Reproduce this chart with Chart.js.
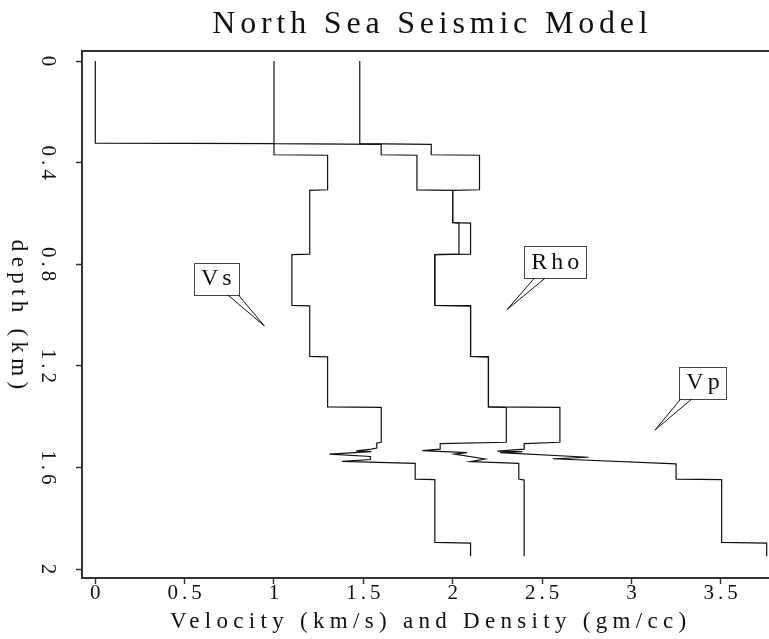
<!DOCTYPE html>
<html>
<head>
<meta charset="utf-8">
<script src="https://cdn.jsdelivr.net/npm/chart.js@4.4.1/dist/chart.umd.min.js"></script>
<style>
  html, body { margin: 0; padding: 0; background: #fff; overflow: hidden; }
  #wrap { width: 769px; height: 639px; overflow: hidden; }
</style>
</head>
<body>
<div id="wrap"><canvas id="seismicChart" width="780" height="639"></canvas></div>
<script>
const chartTitle = "North Sea Seismic Model";
const xAxisTitle = "Velocity (km/s) and Density (gm/cc)";
const yAxisTitle = "depth (km)";

const xTicks = [0, 0.5, 1, 1.5, 2, 2.5, 3, 3.5];
const yTicks = [0, 0.4, 0.8, 1.2, 1.6, 2];

// shear velocity (km/s) vs depth (km)
const vsVel = [0, 0, 1.0, 1.0, 1.3, 1.3, 1.2, 1.2, 1.1, 1.1, 1.2, 1.2, 1.3, 1.3, 1.6, 1.6,
  1.575, 1.575, 1.545, 1.46, 1.545, 1.31, 1.54, 1.54, 1.38, 1.79, 1.79, 1.9, 1.9, 2.1, 2.1];
const vsDepth = [0, 0.323, 0.325, 0.369, 0.371, 0.507, 0.509, 0.760, 0.762, 0.962, 0.964, 1.163, 1.165, 1.362, 1.364, 1.501,
  1.504, 1.524, 1.528, 1.535, 1.538, 1.548, 1.557, 1.569, 1.576, 1.584, 1.646, 1.648, 1.895, 1.898, 1.95];

// density (gm/cc) vs depth (km)
const rhoVel = [1.0, 1.0, 1.6, 1.6, 1.8, 1.8, 2.0, 2.0, 2.035, 2.035, 1.9, 1.9, 2.1, 2.1, 2.2, 2.2, 2.3, 2.3,
  1.93, 1.93, 1.83, 2.08, 2.01, 2.18, 2.10, 2.37, 2.37, 2.40, 2.40];
const rhoDepth = [0, 0.325, 0.328, 0.369, 0.371, 0.507, 0.509, 0.636, 0.638, 0.760, 0.762, 0.962, 0.964, 1.163, 1.165, 1.362, 1.364, 1.501,
  1.506, 1.528, 1.534, 1.542, 1.548, 1.567, 1.577, 1.584, 1.646, 1.650, 1.95];

// compressional velocity (km/s) vs depth (km)
const vpVel = [1.48, 1.48, 1.88, 1.88, 2.15, 2.15, 2.0, 2.0, 2.10, 2.10, 1.9, 1.9, 2.1, 2.1, 2.2, 2.2, 2.6, 2.6,
  2.40, 2.40, 2.25, 2.39, 2.265, 2.76, 2.56, 3.25, 3.25, 3.505, 3.505, 3.757, 3.757];
const vpDepth = [0, 0.325, 0.328, 0.369, 0.371, 0.507, 0.509, 0.636, 0.638, 0.760, 0.762, 0.962, 0.964, 1.163, 1.165, 1.362, 1.364, 1.501,
  1.506, 1.528, 1.536, 1.538, 1.542, 1.560, 1.566, 1.586, 1.646, 1.648, 1.895, 1.898, 1.95];

// callout labels: the point each one points at
const labelNames = ["Vs", "Rho", "Vp"];
const labelVel = [0.946, 2.305, 3.132];
const labelDepth = [1.043, 0.978, 1.453];

// styling for the callouts (pixel offsets from the tip)
const calloutStyle = {
  boxDx: [-48, 48, 48],
  boxDy: -47,
  boxH: 32,
  padX: 7,
  baseDx: [[-36.6, -26], [27, 37.7], [25.7, 36.7]],
  baseDy: -31
};

const SERIF = "'Liberation Serif', 'Times New Roman', serif";
const TICK_SPACING = 4;

function toPoints(xs, ys) {
  return xs.map((x, i) => ({ x, y: ys[i] }));
}

function curve(xs, ys) {
  return {
    data: toPoints(xs, ys),
    showLine: true,
    borderColor: "#111",
    borderWidth: 1.2,
    pointRadius: 0,
    tension: 0,
    fill: false
  };
}

function spacedText(ctx, text, x, y, spacing, rotation) {
  ctx.save();
  ctx.letterSpacing = spacing + "px";
  const w = ctx.measureText(text).width - spacing;
  ctx.translate(x, y);
  ctx.rotate(rotation || 0);
  ctx.textAlign = "left";
  ctx.fillText(text, -w / 2, 0);
  ctx.restore();
  return w;
}

const decorPlugin = {
  id: "decor",
  beforeUpdate(chart) {
    chart.ctx.letterSpacing = TICK_SPACING + "px";
  },
  beforeDraw(chart) {
    chart.ctx.letterSpacing = TICK_SPACING + "px";
  },
  afterDraw(chart) {
    const ctx = chart.ctx;
    const area = chart.chartArea;
    const xs = chart.scales.x;
    const ys = chart.scales.y;

    // top frame line
    ctx.save();
    ctx.strokeStyle = "#333";
    ctx.lineWidth = 2;
    ctx.beginPath();
    ctx.moveTo(area.left - 1, area.top);
    ctx.lineTo(area.right, area.top);
    ctx.stroke();
    ctx.restore();

    ctx.save();
    ctx.fillStyle = "#111";
    ctx.textBaseline = "alphabetic";
    ctx.font = "32px " + SERIF;
    spacedText(ctx, chartTitle, 430, 32.5, 4.8, 0);

    ctx.font = "23px " + SERIF;
    spacedText(ctx, xAxisTitle, 428, 628, 5.3, 0);

    ctx.textBaseline = "middle";
    spacedText(ctx, yAxisTitle, 18, (area.top + area.bottom) / 2, 5.3, Math.PI / 2);
    ctx.restore();

    // callout boxes
    labelNames.forEach((name, i) => {
      const tx = xs.getPixelForValue(labelVel[i]);
      const ty = ys.getPixelForValue(labelDepth[i]);
      const cx = tx + calloutStyle.boxDx[i];
      const cy = ty + calloutStyle.boxDy;

      ctx.save();
      ctx.font = "24px " + SERIF;
      ctx.letterSpacing = "4px";
      const tw = ctx.measureText(name).width - 4;
      const bw = tw + calloutStyle.padX * 2;
      const bh = calloutStyle.boxH;

      ctx.fillStyle = "#fff";
      ctx.fillRect(cx - bw / 2, cy - bh / 2, bw, bh);
      ctx.strokeStyle = "#444";
      ctx.lineWidth = 1;
      ctx.strokeRect(Math.round(cx - bw / 2) + 0.5, Math.round(cy - bh / 2) + 0.5, Math.round(bw), Math.round(bh));

      ctx.strokeStyle = "#111";
      ctx.beginPath();
      ctx.moveTo(tx + calloutStyle.baseDx[i][0], ty + calloutStyle.baseDy);
      ctx.lineTo(tx, ty);
      ctx.lineTo(tx + calloutStyle.baseDx[i][1], ty + calloutStyle.baseDy);
      ctx.stroke();

      ctx.fillStyle = "#111";
      ctx.textBaseline = "middle";
      ctx.textAlign = "left";
      ctx.fillText(name, cx - tw / 2, cy);
      ctx.restore();
    });
  }
};

const ctx = document.getElementById("seismicChart").getContext("2d");
const seismicChart = new Chart(ctx, {
  type: "scatter",
  data: {
    datasets: [
      curve(vsVel, vsDepth),
      curve(rhoVel, rhoDepth),
      curve(vpVel, vpDepth)
    ]
  },
  plugins: [decorPlugin],
  options: {
    responsive: false,
    animation: false,
    devicePixelRatio: 1,
    layout: { padding: { top: 51, right: 0, bottom: 0, left: 0 } },
    plugins: {
      legend: { display: false },
      tooltip: { enabled: false },
      title: { display: false }
    },
    scales: {
      x: {
        type: "linear",
        position: "bottom",
        min: -0.0744,
        max: 3.8316,
        afterBuildTicks: (s) => { s.ticks = xTicks.map((v) => ({ value: v })); },
        afterFit: (s) => { s.height = 61; },
        grid: { drawOnChartArea: false, drawTicks: true, tickLength: 6, tickColor: "#333", tickWidth: 1.5 },
        border: { display: true, color: "#333", width: 2 },
        ticks: {
          font: { family: SERIF, size: 21 },
          color: "#111",
          padding: -3,
          labelOffset: TICK_SPACING / 2,
          maxRotation: 0,
          autoSkip: false,
          callback: (v) => String(v)
        }
      },
      y: {
        type: "linear",
        position: "left",
        reverse: true,
        min: -0.0394,
        max: 2.0354,
        afterBuildTicks: (s) => { s.ticks = yTicks.map((v) => ({ value: v })); },
        afterFit: (s) => { s.width = 82; },
        grid: { drawOnChartArea: false, drawTicks: true, tickLength: 6, tickColor: "#333", tickWidth: 1.5 },
        border: { display: true, color: "#333", width: 2 },
        ticks: {
          font: { family: SERIF, size: 21 },
          color: "#111",
          padding: 9,
          minRotation: -90,
          maxRotation: -90,
          crossAlign: "center",
          labelOffset: TICK_SPACING / 2,
          autoSkip: false,
          callback: (v) => String(v)
        }
      }
    }
  }
});
</script>
</body>
</html>
